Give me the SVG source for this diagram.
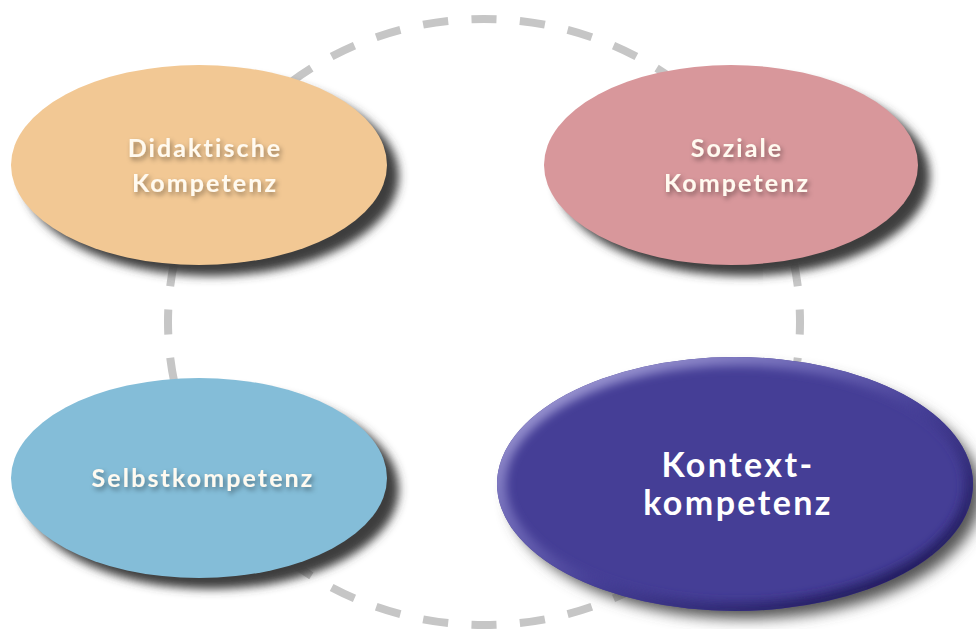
<svg xmlns="http://www.w3.org/2000/svg" width="976" height="629" viewBox="0 0 976 629">
<defs>
<style>
.lbl{font-family:Lato,"Open Sans","DejaVu Sans",sans-serif;font-weight:bold;fill:#fffaf0;text-anchor:middle;font-size:25px;letter-spacing:2.1px}
.big{font-size:34px;letter-spacing:2.4px;fill:#ffffff}
.ring{fill:none;stroke:#c6c6c6;stroke-width:8}
</style>
<filter id="shadow" x="-20%" y="-20%" width="140%" height="140%">
<feGaussianBlur stdDeviation="5"/>
</filter>
<filter id="shadow2" x="-20%" y="-20%" width="140%" height="140%">
<feGaussianBlur stdDeviation="7"/>
</filter>
<filter id="tshadow" x="-20%" y="-40%" width="140%" height="180%">
<feDropShadow dx="2" dy="3" stdDeviation="2.5" flood-color="#000" flood-opacity="0.4"/>
</filter>
<filter id="bevblur" x="-10%" y="-10%" width="120%" height="120%">
<feGaussianBlur stdDeviation="5"/>
</filter>
<clipPath id="kclip"><ellipse cx="735" cy="484" rx="238" ry="127"/></clipPath>
<linearGradient id="bev" x1="0" y1="0" x2="1" y2="1">
<stop offset="0" stop-color="#b3aee0"/>
<stop offset="0.35" stop-color="#6c66b5"/>
<stop offset="0.55" stop-color="#453e96"/>
<stop offset="1" stop-color="#15104a"/>
</linearGradient>
</defs>
<rect width="976" height="629" fill="#ffffff"/>
<g id="connectors">
<ellipse class="ring" cx="484" cy="322" rx="316" ry="303" pathLength="400" stroke-dasharray="5.2 4.8" stroke-dashoffset="2.6"/>
</g>
<g id="didaktische">
<ellipse cx="211" cy="176" rx="188" ry="100" fill="#3c3c3c" filter="url(#shadow)"/>
<ellipse cx="199" cy="165" rx="188" ry="100" fill="#f2c894"/>
<g filter="url(#tshadow)">
<text class="lbl" x="205" y="157">Didaktische</text>
<text class="lbl" x="205" y="192">Kompetenz</text>
</g>
</g>
<g id="soziale">
<ellipse cx="743" cy="176" rx="187" ry="100" fill="#3c3c3c" filter="url(#shadow)"/>
<ellipse cx="731" cy="165" rx="187" ry="100" fill="#d8979b"/>
<g filter="url(#tshadow)">
<text class="lbl" x="737" y="157">Soziale</text>
<text class="lbl" x="737" y="192">Kompetenz</text>
</g>
</g>
<g id="selbst">
<ellipse cx="211" cy="489" rx="188" ry="100" fill="#3c3c3c" filter="url(#shadow)"/>
<ellipse cx="199" cy="478" rx="188" ry="100" fill="#84bdd8"/>
<g filter="url(#tshadow)">
<text class="lbl" x="203" y="487">Selbstkompetenz</text>
</g>
</g>
<g id="kontext">
<ellipse cx="745" cy="494" rx="236" ry="125" fill="#555" filter="url(#shadow2)"/>
<ellipse cx="735" cy="484" rx="238" ry="127" fill="#453e96"/>
<g clip-path="url(#kclip)">
<ellipse cx="735" cy="484" rx="238" ry="127" fill="none" stroke="url(#bev)" stroke-width="18" filter="url(#bevblur)"/>
</g>
<text class="lbl big" x="738" y="477">Kontext-</text>
<text class="lbl big" x="738" y="515">kompetenz</text>
</g>
</svg>
